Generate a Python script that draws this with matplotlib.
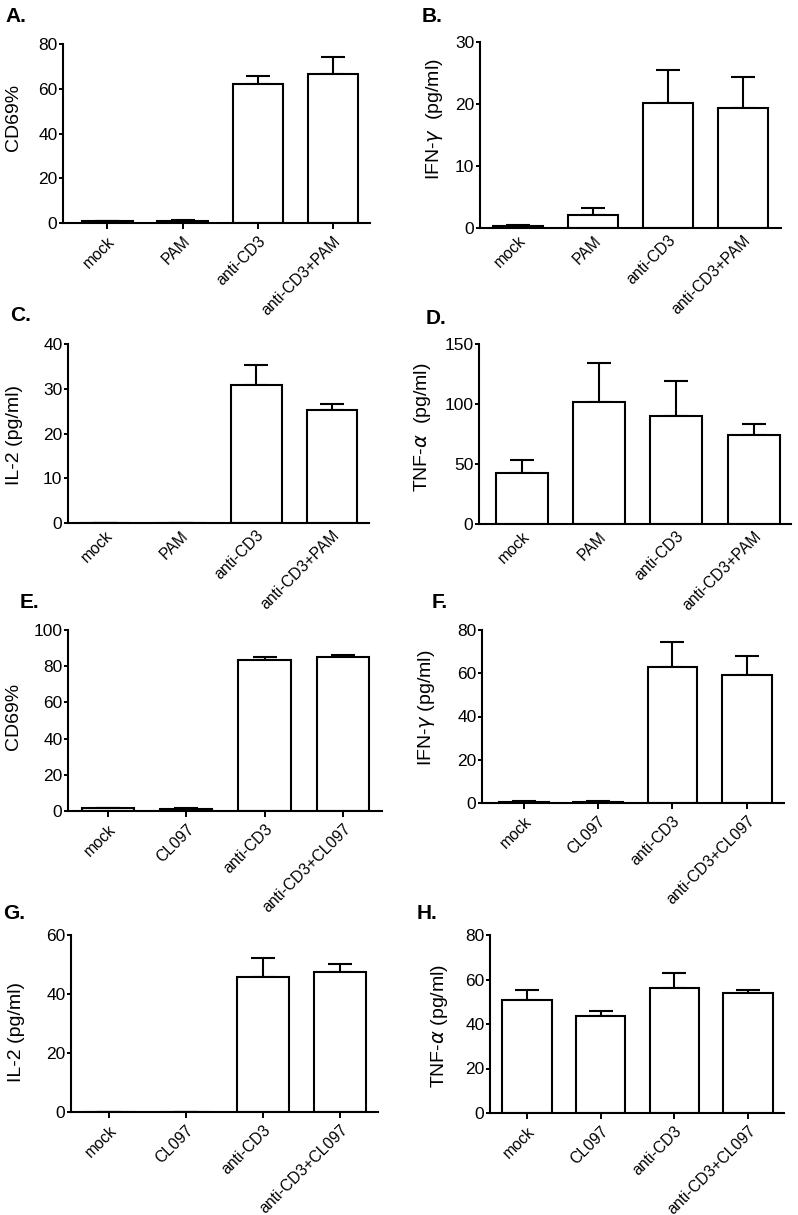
import matplotlib
matplotlib.use('Agg')
import matplotlib.pyplot as plt
import numpy as np

plt.rcParams['font.family'] = ['Liberation Sans', 'DejaVu Sans']
plt.rcParams['mathtext.fontset'] = 'dejavusans'

pam_groups = ['mock', 'PAM', 'anti-CD3', 'anti-CD3+PAM']
cl_groups = ['mock', 'CL097', 'anti-CD3', 'anti-CD3+CL097']

# mean and upper error (SEM)
a_mean = [0.8, 1.0, 62.1, 66.8]
a_err = [0.3, 0.3, 3.5, 7.2]
b_mean = [0.3, 2.1, 20.1, 19.3]
b_err = [0.15, 1.1, 5.4, 5.0]
c_mean = [0, 0, 30.9, 25.2]
c_err = [0, 0, 4.5, 1.4]
d_mean = [42.8, 101.9, 89.7, 73.9]
d_err = [10.8, 32.3, 29.2, 9.2]
e_mean = [1.5, 1.3, 83.7, 85.0]
e_err = [0.3, 0.3, 1.5, 1.0]
f_mean = [0.6, 0.5, 62.8, 59.4]
f_err = [0.4, 0.4, 11.7, 8.4]
g_mean = [0, 0, 45.8, 47.4]
g_err = [0, 0, 6.5, 2.9]
h_mean = [50.9, 43.6, 56.1, 53.9]
h_err = [4.5, 2.1, 6.9, 1.2]

W, H = 798, 1215
fig = plt.figure(figsize=(W / 100, H / 100), dpi=100)

# letter, groups, mean, err, ylabel, ymax, ystep, axes box px (l, t, r, b), xlim,
# x ticks shown, letter pos px, ylabel right edge px, ylabel vertical pos (axes frac)
panels = [
    ('A.', pam_groups, a_mean, a_err, 'CD69%', 80, 20, (63, 44, 370, 223), (-0.59, 3.49), True, (5, 7), 22, 0.59),
    ('B.', pam_groups, b_mean, b_err, r'IFN-$\gamma$  (pg/ml)', 30, 10, (480, 42, 781, 228), (-0.51, 3.51), False, (422, 7), 445, 0.586),
    ('C.', pam_groups, c_mean, c_err, 'IL-2 (pg/ml)', 40, 10, (68, 344, 369, 523), (-0.49, 3.49), False, (10, 306), 23, 0.49),
    ('D.', pam_groups, d_mean, d_err, r'TNF-$\alpha$  (pg/ml)', 150, 50, (479, 344, 791, 524), (-0.55, 3.48), False, (426, 309), 433, 0.54),
    ('E.', cl_groups, e_mean, e_err, 'CD69%', 100, 20, (68, 630, 382, 811), (-0.51, 3.5), True, (20, 593), 22, 0.52),
    ('F.', cl_groups, f_mean, f_err, r'IFN-$\gamma$ (pg/ml)', 80, 20, (482, 630, 784, 803), (-0.56, 3.5), True, (432, 593), 437, 0.55),
    ('G.', cl_groups, g_mean, g_err, 'IL-2 (pg/ml)', 60, 20, (71, 935, 378, 1112), (-0.49, 3.49), True, (3, 904), 25, 0.45),
    ('H.', cl_groups, h_mean, h_err, r'TNF-$\alpha$ (pg/ml)', 80, 20, (490, 935, 784, 1113), (-0.5, 3.49), True, (417, 904), 450, 0.49),
]

for letter, groups, mean, err, ylab, ymax, ystep, box, xlim, xt, lpos, yl_right, yl_y in panels:
    l, t, r, b = box
    ax = fig.add_axes([l / W, 1 - b / H, (r - l) / W, (b - t) / H])
    x = np.arange(len(groups))
    ax.bar(x, mean, width=0.67, color='white', edgecolor='black', linewidth=1.5, zorder=2)
    ax.errorbar(x, mean, yerr=[np.zeros(len(err)), err], fmt='none', ecolor='black',
                elinewidth=1.5, capsize=8.3, capthick=1.5, zorder=1)
    ax.set_xlim(*xlim)
    ax.set_ylim(0, ymax)
    ax.set_yticks(np.arange(0, ymax + 1, ystep))
    ax.set_xticks(x)
    ax.set_xticklabels(groups, rotation=45, ha='right', rotation_mode='anchor', fontsize=11.3)
    ax.tick_params(axis='y', labelsize=12.5, length=3, width=1.4, pad=1)
    ax.tick_params(axis='x', length=4 if xt else 0, width=1.4, pad=3.5)
    for s in ['top', 'right']:
        ax.spines[s].set_visible(False)
    for s in ['left', 'bottom']:
        ax.spines[s].set_linewidth(1.5)
    ax.set_ylabel(ylab, fontsize=14)
    ax.yaxis.set_label_coords((yl_right - l) / (r - l), yl_y)
    fig.text(lpos[0] / W, 1 - lpos[1] / H, letter, fontsize=15, fontweight='bold', va='top', ha='left')

fig.savefig('out.png', dpi=100)
